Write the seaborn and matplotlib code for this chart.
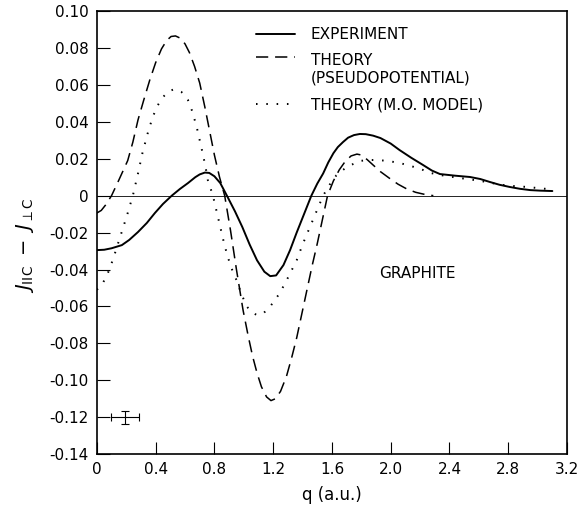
import numpy as np
import pandas as pd
import matplotlib
matplotlib.use("Agg")
import matplotlib.pyplot as plt
import seaborn as sns
from matplotlib.legend_handler import HandlerLine2D

# =========================
# Data
# =========================
q_exp = [0.00, 0.05, 0.10, 0.17, 0.22, 0.28, 0.34, 0.395, 0.45, 0.51, 0.565, 0.62,
         0.67, 0.70, 0.735, 0.765, 0.80, 0.84, 0.885, 0.94, 0.99, 1.04, 1.09, 1.14,
         1.18, 1.22, 1.27, 1.315, 1.36, 1.41, 1.46, 1.50, 1.54, 1.575, 1.61, 1.64,
         1.675, 1.71, 1.75, 1.79, 1.83, 1.88, 1.93, 2.00, 2.06, 2.14, 2.22, 2.28,
         2.335, 2.44, 2.54, 2.61, 2.675, 2.74, 2.81, 2.88, 2.95, 3.02, 3.10]
v_exp = [-0.0295, -0.0293, -0.0285, -0.0268, -0.0240, -0.0197, -0.0148, -0.0094,
         -0.0045, 0.0000, 0.0036, 0.0068, 0.0100, 0.0115, 0.0125, 0.0123, 0.0105,
         0.0068, 0.0000, -0.0085, -0.0170, -0.0265, -0.0350, -0.0412, -0.0436,
         -0.0432, -0.0376, -0.0295, -0.0200, -0.0100, 0.0000, 0.0065, 0.0120, 0.0180,
         0.0230, 0.0263, 0.0290, 0.0314, 0.0328, 0.0334, 0.0333, 0.0325, 0.0312,
         0.0282, 0.0247, 0.0205, 0.0166, 0.0136, 0.0117, 0.0108, 0.0101, 0.0090,
         0.0074, 0.0059, 0.0047, 0.0037, 0.0030, 0.0027, 0.0025]

q_pseudo = [0.00, 0.03, 0.06, 0.10, 0.15, 0.21, 0.245, 0.28, 0.32, 0.36, 0.40, 0.44,
            0.475, 0.505, 0.535, 0.57, 0.60, 0.63, 0.665, 0.70, 0.735, 0.77, 0.80,
            0.835, 0.87, 0.91, 0.95, 0.995, 1.03, 1.06, 1.09, 1.12, 1.155, 1.185,
            1.215, 1.25, 1.29, 1.325, 1.36, 1.395, 1.43, 1.465, 1.50, 1.535, 1.57,
            1.61, 1.65, 1.69, 1.73, 1.77, 1.80, 1.84, 1.88, 1.93, 1.99, 2.05, 2.11,
            2.17, 2.23, 2.29]
v_pseudo = [-0.0094, -0.0080, -0.0050, 0.0000, 0.0085, 0.0190, 0.0290, 0.0410,
            0.0520, 0.0626, 0.0720, 0.0795, 0.0840, 0.0862, 0.0865, 0.0852, 0.0822,
            0.0775, 0.0700, 0.0610, 0.0480, 0.0340, 0.0220, 0.0100, 0.0000, -0.0190,
            -0.0400, -0.0620, -0.0760, -0.0870, -0.0960, -0.1035, -0.1090, -0.1110,
            -0.1100, -0.1060, -0.0980, -0.0880, -0.0770, -0.0640, -0.0510, -0.0380,
            -0.0260, -0.0130, 0.0000, 0.0080, 0.0140, 0.0185, 0.0215, 0.0225, 0.0220,
            0.0195, 0.0166, 0.0130, 0.0095, 0.0062, 0.0036, 0.0018, 0.0007, 0.0000]

q_mo = [0.00, 0.04, 0.075, 0.11, 0.145, 0.18, 0.21, 0.245, 0.28, 0.31, 0.345, 0.38,
        0.415, 0.45, 0.49, 0.53, 0.575, 0.62, 0.65, 0.68, 0.70, 0.72, 0.74, 0.755,
        0.79, 0.815, 0.84, 0.865, 0.89, 0.92, 0.95, 0.985, 1.02, 1.055, 1.09, 1.13,
        1.18, 1.245, 1.30, 1.36, 1.40, 1.45, 1.495, 1.54, 1.585, 1.63, 1.70, 1.79,
        1.85, 1.91, 1.98, 2.06, 2.14, 2.22, 2.27, 2.35, 2.43, 2.52, 2.61, 2.69,
        2.76, 2.85, 2.93, 3.00, 3.08]
v_mo = [-0.0510, -0.0475, -0.0420, -0.0345, -0.0257, -0.0170, -0.0094, 0.0000,
        0.0120, 0.0230, 0.0335, 0.0426, 0.0490, 0.0534, 0.0566, 0.0577, 0.0562,
        0.0518, 0.0455, 0.0370, 0.0300, 0.0230, 0.0155, 0.0085, 0.0000, -0.0085,
        -0.0170, -0.0255, -0.0330, -0.0400, -0.0457, -0.0535, -0.0600, -0.0632,
        -0.0647, -0.0640, -0.0600, -0.0528, -0.0445, -0.0350, -0.0265, -0.0170,
        -0.0085, 0.0000, 0.0060, 0.0110, 0.0155, 0.0188, 0.0193, 0.0193, 0.0188,
        0.0177, 0.0160, 0.0139, 0.0123, 0.0110, 0.0100, 0.0090, 0.0080, 0.0068,
        0.0058, 0.0051, 0.0047, 0.0041, 0.0035]

labels = ["EXPERIMENT", "THEORY\n(PSEUDOPOTENTIAL)", "THEORY (M.O. MODEL)"]

# typical error bar
err_q, err_v = 0.19, -0.12
err_dq, err_dv = 0.095, 0.0035

x_ticks = [0, 0.4, 0.8, 1.2, 1.6, 2.0, 2.4, 2.8, 3.2]
x_ticklabels = ["0", "0.4", "0.8", "1.2", "1.6", "2.0", "2.4", "2.8", "3.2"]
y_ticks = [0.10, 0.08, 0.06, 0.04, 0.02, 0, -0.02, -0.04, -0.06, -0.08, -0.10, -0.12, -0.14]
y_ticklabels = ["0.10", "0.08", "0.06", "0.04", "0.02", "0", "-0.02", "-0.04",
                "-0.06", "-0.08", "-0.10", "-0.12", "-0.14"]

DASH = (0, (8, 4.5))
DOT = (0, (0.8, 4.5))


# legend handle sits on the first line of a two-line label
class FirstLineHandler(HandlerLine2D):
    def create_artists(self, legend, orig_handle, xdescent, ydescent, width,
                       height, fontsize, trans):
        artists = super().create_artists(legend, orig_handle, xdescent, ydescent,
                                         width, height, fontsize, trans)
        for a in artists:
            a.set_ydata(np.asarray(a.get_ydata()) + 0.85 * fontsize)
        return artists


# =========================
# Style
# =========================
sns.set_style("ticks")
plt.rcParams.update({
    "font.family": ["DejaVu Sans"],
    "mathtext.fontset": "dejavusans",
    "font.size": 11,
    "axes.linewidth": 1.2,
    "text.color": "black",
    "axes.labelcolor": "black",
    "xtick.color": "black",
    "ytick.color": "black",
    "axes.edgecolor": "black",
})

fig = plt.figure(figsize=(5.87, 5.12), dpi=100)
ax = fig.add_axes([0.165, 0.113, 0.801, 0.8655])

ax.axhline(0, color="black", lw=0.6, zorder=1)

df_exp = pd.DataFrame({"q": q_exp, "v": v_exp})
df_pseudo = pd.DataFrame({"q": q_pseudo, "v": v_pseudo})
df_mo = pd.DataFrame({"q": q_mo, "v": v_mo})

sns.lineplot(data=df_exp, x="q", y="v", ax=ax, color="black", lw=1.4, sort=False)
sns.lineplot(data=df_pseudo, x="q", y="v", ax=ax, color="black", lw=1.1, sort=False)
sns.lineplot(data=df_mo, x="q", y="v", ax=ax, color="black", lw=1.4, sort=False)
l_exp, l_pseudo, l_mo = ax.lines[1], ax.lines[2], ax.lines[3]
l_pseudo.set_linestyle(DASH)
l_mo.set_linestyle(DOT)

ax.errorbar(err_q, err_v, xerr=err_dq, yerr=err_dv, color="black", lw=0.8,
            capsize=3, capthick=0.8)

ax.text(2.18, -0.042, "GRAPHITE", ha="center", va="center", fontsize=11)

leg = ax.legend([l_exp, l_pseudo, l_mo], labels,
                loc="upper left", bbox_to_anchor=(0.325, 0.978), frameon=False,
                handlelength=2.6, handletextpad=1.0, labelspacing=0.75,
                fontsize=11, borderaxespad=0,
                handler_map={l_pseudo: FirstLineHandler()})

ax.set_xlim(0, 3.2)
ax.set_ylim(-0.14, 0.10)
ax.set_xticks(x_ticks)
ax.set_xticklabels(x_ticklabels)
ax.set_yticks(y_ticks)
ax.set_yticklabels(y_ticklabels)
ax.tick_params(axis="both", direction="in", length=9, width=0.8, pad=6,
               labelsize=11, top=False, right=False)

ax.set_xlabel("q (a.u.)", fontsize=12, labelpad=6)
ax.set_ylabel(r"$J_{\rm IIC}\ -\ J_{\perp \rm C}$", fontsize=14, labelpad=4)
ax.yaxis.set_label_coords(-0.13, 0.47)

for s in ax.spines.values():
    s.set_visible(True)

fig.savefig("out.png", dpi=100)
